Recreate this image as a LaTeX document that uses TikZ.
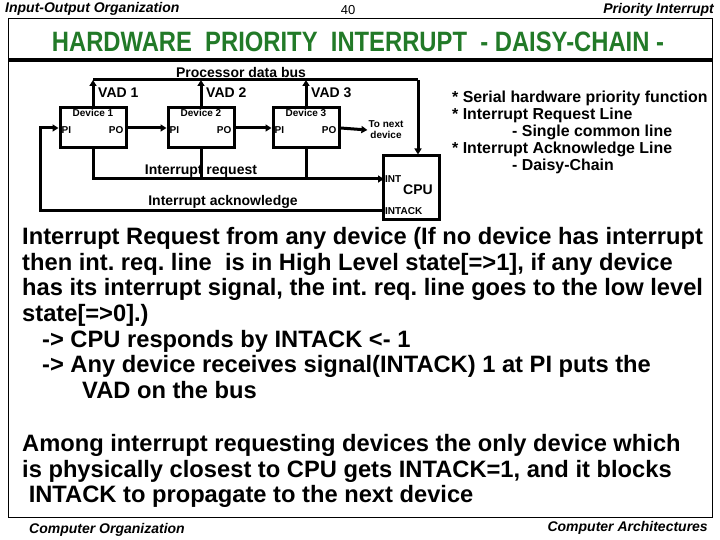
\documentclass[tikz,border=0pt]{standalone}
\usepackage{fontspec}
\setmainfont{Liberation Sans}
\newfontfamily\narrowsans[FakeStretch=0.85]{Liberation Sans}
\usetikzlibrary{arrows.meta, positioning}
\definecolor{titleGreen}{RGB}{34,122,40}
\frenchspacing

\begin{document}
\begin{tikzpicture}[x=1pt, y=-1pt,
  dev/.style={draw, line width=3pt, minimum width=66pt, minimum height=40pt, inner sep=0pt},
  wire/.style={line width=3pt},
  sig/.style={line width=3pt, -{Triangle[length=6pt, width=7pt]}},
  tiny/.style={font=\bfseries\fontsize{10}{11}\selectfont, inner sep=1pt},
  lbl/.style={font=\bfseries\fontsize{14}{15}\selectfont, inner sep=1pt},
  hdr/.style={font=\bfseries\itshape\fontsize{14}{15}\selectfont, inner sep=0pt},
  body/.style={font=\bfseries\fontsize{23.7}{25.7}\selectfont, align=left, anchor=north west, inner sep=0pt}
]
\useasboundingbox (0,0) rectangle (720,540);

% Frame
\draw[line width=1pt] (8,19) rectangle (712,517);
\draw[line width=4pt] (8,60) -- (712,60);

% Header, title, footer
\node[hdr, anchor=west] (hdrL) at (5,9) {Input-Output Organization};
\node[font=\fontsize{13}{14}\selectfont] (pageNo) at (348,10) {40};
\node[hdr, anchor=east] (hdrR) at (714,10) {Priority Interrupt};
\node[font=\narrowsans\bfseries\fontsize{28}{30}\selectfont, text=titleGreen] (title) at (358,42) {HARDWARE\ \ PRIORITY\ \ INTERRUPT\ \ - DAISY-CHAIN -};
\node[hdr, anchor=west] (ftrL) at (29,530) {Computer Organization};
\node[hdr, anchor=east] (ftrR) at (708,528) {Computer Architectures};

% Devices and CPU
\node[dev] (devA) at (93,128) {};
\node[dev] (devB) at (201,128) {};
\node[dev] (devC) at (306,128) {};
\node[dev, minimum width=56pt, minimum height=64pt] (cpu) at (411,188) {};

\node[tiny, below=2pt of devA.north] (nameA) {Device 1};
\node[tiny, below=2pt of devB.north] (nameB) {Device 2};
\node[tiny, below=2pt of devC.north] (nameC) {Device 3};
\node[tiny, anchor=west, xshift=2pt, yshift=-2pt] (piA) at (devA.west) {PI};
\node[tiny, anchor=east, xshift=-3pt, yshift=-2pt] (poA) at (devA.east) {PO};
\node[tiny, anchor=west, xshift=2pt, yshift=-2pt] (piB) at (devB.west) {PI};
\node[tiny, anchor=east, xshift=-3pt, yshift=-2pt] (poB) at (devB.east) {PO};
\node[tiny, anchor=west, xshift=2pt, yshift=-2pt] (piC) at (devC.west) {PI};
\node[tiny, anchor=east, xshift=-3pt, yshift=-2pt] (poC) at (devC.east) {PO};

\node[lbl] (cpuName) at (418,190) {CPU};
\node[tiny, anchor=west] (intLbl) at (384,179) {INT};
\node[tiny, anchor=west] (ackLbl) at (384,211) {INTACK};
\node[tiny, align=center] (toNext) at (386,130) {To next\\device};

% Data bus
\coordinate (busL) at (93,80);
\coordinate (busR) at (418,80);
\node[lbl] (busLbl) at (241,72) {Processor data bus};
\draw[wire] (busL) -- (busR);
\draw[sig] (busR) -- (busR |- cpu.north);
\draw[sig] (devA.north) -- (busL);
\draw[sig] (devB.north) -- (devB.north |- busL);
\draw[sig] (devC.north) -- (devC.north |- busL);
\node[lbl, anchor=west] (vadA) at (97,93) {VAD 1};
\node[lbl, anchor=west] (vadB) at (205,93) {VAD 2};
\node[lbl, anchor=west] (vadC) at (310,93) {VAD 3};

% Priority chain
\draw[sig] (devA.east) -- (devB.west);
\draw[sig] (devB.east) -- (devC.west);
\draw[sig] (devC.east) -- (toNext.west);

% Interrupt request
\draw[sig] (devA.south) |- (intLbl.west);
\draw[wire] (devB.south) -- (devB.south |- intLbl.west);
\draw[wire] (devC.south) -- (devC.south |- intLbl.west);
\node[lbl] (reqLbl) at (201,171) {Interrupt request};

% Interrupt acknowledge
\coordinate (ackTurn) at (40,211);
\draw[sig] (ackLbl.west) -- (ackTurn) |- (devA.west);
\node[lbl] (ackText) at (223,202) {Interrupt acknowledge};

% Notes
\node[font=\bfseries\fontsize{15.9}{17}\selectfont, align=left, anchor=north west, inner sep=0pt] (notes) at (452,91)
  {* Serial hardware priority function\\
   * Interrupt Request Line\\
   \hspace*{60pt}- Single common line\\
   * Interrupt Acknowledge Line\\
   \hspace*{60pt}- Daisy-Chain};

\node[body] (explain) at (22,227)
  {Interrupt Request from any device (If no device has interrupt\\
   then int. req. line\ \ is in High Level state[=>1], if any device\\
   has its interrupt signal, the int. req. line goes to the low level\\
   state[=>0].)\\
   \hspace*{20pt}-> CPU responds by INTACK <- 1\\
   \hspace*{20pt}-> Any device receives signal(INTACK) 1 at PI puts the\\
   \hspace*{60pt}VAD on the bus};

\node[body] (among) at (22,434)
  {Among interrupt requesting devices the only device which\\
   is physically closest to CPU gets INTACK=1, and it blocks\\
   \ INTACK to propagate to the next device};
\end{tikzpicture}
\end{document}
